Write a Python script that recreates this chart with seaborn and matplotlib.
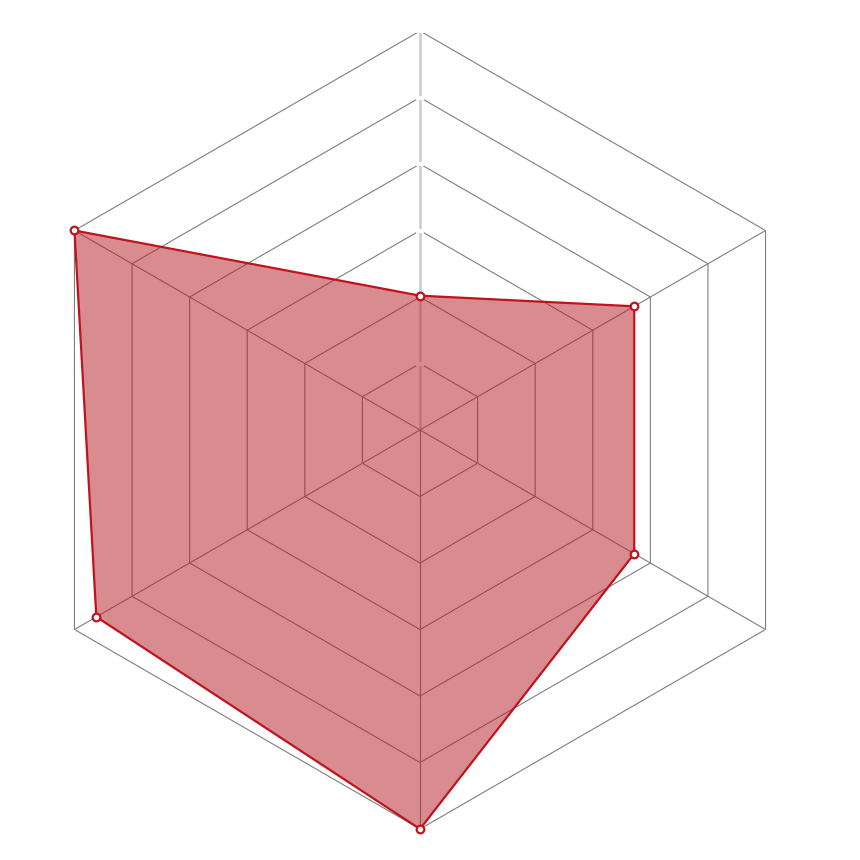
import numpy as np
import pandas as pd
import matplotlib
matplotlib.use("Agg")
import matplotlib.pyplot as plt
import seaborn as sns

categories = ["A", "B", "C", "D", "E", "F"]
values = [2.02, 6.0, 5.62, 6.0, 3.72, 3.72]
max_value = 6
levels = [1, 2, 3, 4, 5, 6]

sns.set_theme(style="white")

fig = plt.figure(figsize=(8.6, 8.6), dpi=100)
cx, cy, R = 420 / 860, 430 / 860, 399 / 860
ax = fig.add_axes([cx - R, cy - R, 2 * R, 2 * R], projection="polar")
ax.set_theta_offset(np.pi / 2)
ax.set_theta_direction(1)
ax.set_ylim(0, max_value)
ax.grid(False)
ax.spines["polar"].set_visible(False)
ax.set_facecolor("white")

n = len(categories)
angles = np.linspace(0, 2 * np.pi, n, endpoint=False)
closed_angles = np.append(angles, angles[0])

# hexagonal grid
for lv in levels:
    ax.plot(closed_angles, [lv] * (n + 1), color="#7f7f7f", lw=0.8, zorder=1)
# spokes
for i, a in enumerate(angles):
    if i == 0:
        ax.plot([a, a], [0, max_value], color="#cccccc", lw=1.8, zorder=1)
        ax.plot([a] * len(levels), levels, ls="none", marker="_", ms=6,
                mew=1.5, color="white", zorder=1.5)
    else:
        ax.plot([a, a], [0, max_value], color="#7f7f7f", lw=0.8, zorder=1)

df = pd.DataFrame({"theta": closed_angles,
                   "r": values + [values[0]]})
ax.fill(df["theta"], df["r"], color="#b51a22", alpha=0.5, lw=0, zorder=2)
sns.lineplot(data=df, x="theta", y="r", sort=False, ax=ax, color="#c0131d",
             lw=1.6, zorder=3, estimator=None)
ax.plot(angles, values, ls="none", marker="o", ms=5.5, mfc="white",
        mec="#c0131d", mew=1.6, zorder=4, clip_on=False)
ax.set_xlabel("")
ax.set_ylabel("")
ax.set_xticks([])
ax.set_yticks([])

fig.savefig("out.png", dpi=100, facecolor="white")
